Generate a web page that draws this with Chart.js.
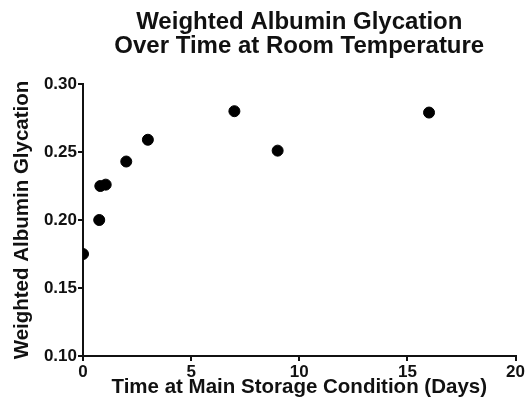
<!DOCTYPE html>
<html>
<head>
<meta charset="utf-8">
<script src="https://cdn.jsdelivr.net/npm/chart.js@4"></script>
<style>
    html, body { margin: 0; padding: 0; background: #fff; }
</style>
</head>
<body>
<canvas id="glycationChart" width="528" height="406"></canvas>
<script>
// Days at main storage condition
var days = [0, 0.75, 0.8, 1.05, 2, 3, 7, 9, 16];
// Weighted albumin glycation
var glycation = [0.175, 0.200, 0.225, 0.226, 0.243, 0.259, 0.280, 0.251, 0.279];

var xTicks = [0, 5, 10, 15, 20];
var yTicks = [0.10, 0.15, 0.20, 0.25, 0.30];

var points = days.map(function (d, i) {
    return { x: d, y: glycation[i] };
});

var font = 'Liberation Sans, Arial, Helvetica, sans-serif';

var ctx = document.getElementById('glycationChart').getContext('2d');
var chart = new Chart(ctx, {
    type: 'scatter',
    data: {
        datasets: [{
            data: points,
            backgroundColor: '#000',
            borderColor: '#000',
            pointRadius: 5.5,
            pointHoverRadius: 5.5
        }]
    },
    options: {
        responsive: false,
        animation: false,
        layout: {
            padding: { left: 0, right: 10, top: 0, bottom: 0 }
        },
        plugins: {
            legend: { display: false },
            tooltip: { enabled: false },
            title: {
                display: true,
                fullSize: false,
                text: ['Weighted Albumin Glycation', 'Over Time at Room Temperature'],
                color: '#111',
                font: { family: font, size: 24, weight: 'bold', lineHeight: 1.0 },
                padding: { top: 10, bottom: 26 }
            }
        },
        scales: {
            x: {
                type: 'linear',
                min: xTicks[0],
                max: xTicks[xTicks.length - 1],
                afterBuildTicks: function (axis) {
                    axis.ticks = xTicks.map(function (v) { return { value: v }; });
                },
                afterFit: function (axis) { axis.height = 50; },
                border: { color: '#111', width: 2 },
                grid: { drawOnChartArea: false, tickLength: 5, color: '#111', lineWidth: 2 },
                ticks: {
                    color: '#111',
                    padding: 3,
                    maxRotation: 0,
                    font: { family: font, size: 17, weight: 'bold', lineHeight: 1.0 }
                },
                title: {
                    display: true,
                    text: 'Time at Main Storage Condition (Days)',
                    color: '#111',
                    font: { family: font, size: 20.5, weight: 'bold', lineHeight: 1.0 },
                    padding: { top: 0, bottom: 8 }
                }
            },
            y: {
                min: yTicks[0],
                max: yTicks[yTicks.length - 1],
                afterBuildTicks: function (axis) {
                    axis.ticks = yTicks.map(function (v) { return { value: v }; });
                },
                afterFit: function (axis) { axis.width = 83; },
                border: { color: '#111', width: 2 },
                grid: { drawOnChartArea: false, tickLength: 5, color: '#111', lineWidth: 2 },
                ticks: {
                    color: '#111',
                    padding: 1,
                    font: { family: font, size: 17, weight: 'bold' },
                    callback: function (v) { return v.toFixed(2); }
                },
                title: {
                    display: true,
                    text: 'Weighted Albumin Glycation',
                    color: '#111',
                    font: { family: font, size: 20.5, weight: 'bold', lineHeight: 1.0 },
                    padding: { top: 12, bottom: 0 }
                }
            }
        }
    }
});
</script>
</body>
</html>
